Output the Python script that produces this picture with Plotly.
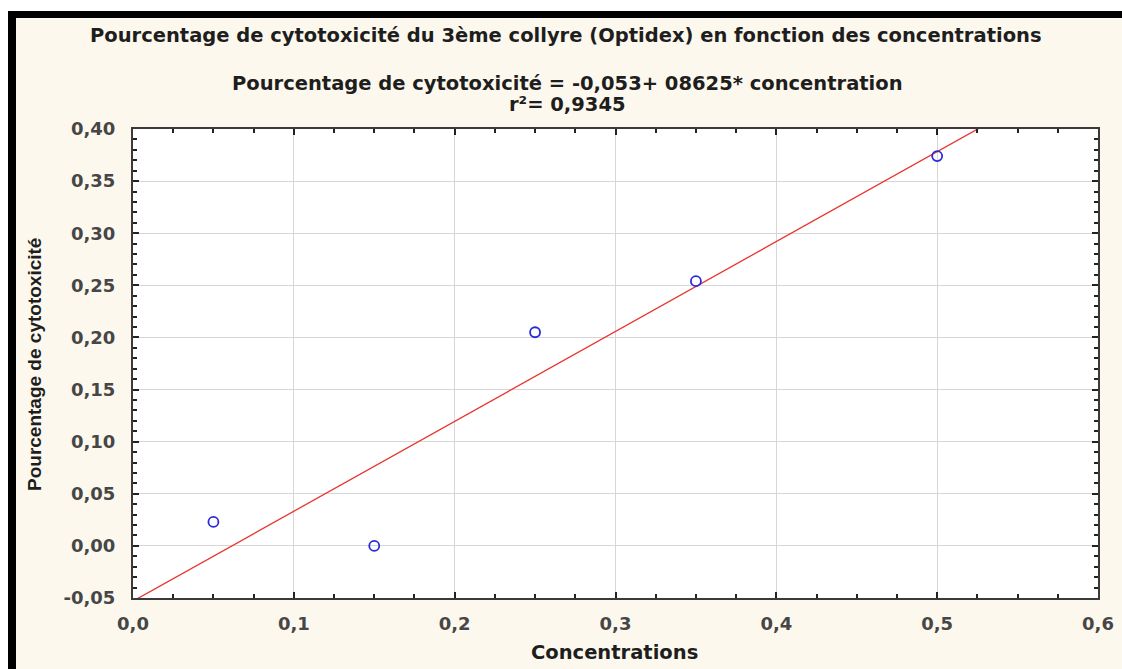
import plotly.graph_objects as go

# data
concentrations = [0.05, 0.15, 0.25, 0.35, 0.50]
cytotoxicite = [0.023, 0.0, 0.205, 0.254, 0.374]

# regression line endpoints (y = -0.053 + 0.8625 x)
fit_x = [0.0, 0.6]
fit_y = [-0.053, 0.4645]

# y tick labels (plain hyphen for the negative value, as in the original)
y_tickvals = [-0.05, 0.0, 0.05, 0.10, 0.15, 0.20, 0.25, 0.30, 0.35, 0.40]
y_ticktext = ["-0,05", "0,00", "0,05", "0,10", "0,15", "0,20", "0,25", "0,30", "0,35", "0,40"]

W, H = 1122, 669
L, R, T, B = 133, 24, 129, 71
PW, PH = W - L - R, H - T - B


def px(x):
    return (x - L) / PW


def py(y):
    return (H - B - y) / PH


BEIGE = "#fdf8ed"
TXT = "#1e1e1e"
TICK = "#464646"

fig = go.Figure()

fig.add_trace(go.Scatter(
    x=fit_x, y=fit_y, mode="lines",
    line=dict(color="#e8342f", width=1.3),
    showlegend=False, hoverinfo="skip",
))

fig.add_trace(go.Scatter(
    x=concentrations, y=cytotoxicite, mode="markers",
    marker=dict(symbol="circle-open", size=10, color="#2a2ad8", line=dict(width=1.8)),
    showlegend=False,
))

axis_common = dict(
    showline=True, linecolor="#3a3a3a", linewidth=2, mirror="ticks",
    ticks="inside", ticklen=6, tickwidth=1.5, tickcolor="#222",
    showgrid=True, gridcolor="#d6d6d6", gridwidth=1,
    zeroline=False,
    tickfont=dict(family="DejaVu Sans", size=18, color=TICK, weight="bold"),
)

fig.update_xaxes(
    range=[0, 0.6], dtick=0.1, tick0=0, tickformat=".1f",
    minor=dict(dtick=0.025, ticks="inside", ticklen=4, tickcolor="#222", showgrid=False),
    ticklabelstandoff=8,
    **axis_common,
)
fig.update_yaxes(
    range=[-0.05, 0.40], tickmode="array", tickvals=y_tickvals, ticktext=y_ticktext,
    minor=dict(dtick=0.01, tick0=0, ticks="inside", ticklen=4, tickcolor="#222", showgrid=False),
    ticklabelstandoff=12,
    **axis_common,
)

shapes = [
    # white strips outside the black frame
    dict(type="rect", xref="paper", yref="paper", x0=px(0), x1=px(W), y0=py(11), y1=py(0),
         fillcolor="white", line=dict(width=0), layer="below"),
    dict(type="rect", xref="paper", yref="paper", x0=px(0), x1=px(8), y0=py(H), y1=py(0),
         fillcolor="white", line=dict(width=0), layer="below"),
    # black frame (top and left)
    dict(type="rect", xref="paper", yref="paper", x0=px(8), x1=px(W), y0=py(18), y1=py(11),
         fillcolor="black", line=dict(width=0), layer="below"),
    dict(type="rect", xref="paper", yref="paper", x0=px(8), x1=px(16), y0=py(H), y1=py(11),
         fillcolor="black", line=dict(width=0), layer="below"),
]

bold = dict(family="DejaVu Sans", size=19.5, color=TXT)
annotations = [
    dict(text="<b>Pourcentage de cytotoxicité du 3ème collyre (Optidex) en fonction des concentrations</b>",
         x=px(566), y=py(35), font=bold),
    dict(text="<b>Pourcentage de cytotoxicité = -0,053+ 08625* concentration</b>",
         x=px(567), y=py(84), font=bold),
    dict(text="<b>r²= 0,9345</b>", x=px(567), y=py(104), font=bold),
    dict(text="<b>Concentrations</b>", x=px(614), y=py(652), font=bold),
    dict(text="<b>Pourcentage de cytotoxicité</b>", x=px(34), y=py(365), textangle=-90,
         font=dict(family="Liberation Sans", size=19, color=TXT)),
]
for a in annotations:
    a.update(xref="paper", yref="paper", showarrow=False, xanchor="center", yanchor="middle")

fig.update_layout(
    width=W, height=H,
    margin=dict(l=L, r=R, t=T, b=B, autoexpand=False),
    paper_bgcolor=BEIGE, plot_bgcolor="white",
    separators=", ",
    shapes=shapes, annotations=annotations,
    showlegend=False,
)

fig.write_html("out.html", config={"displayModeBar": False},
               post_script="document.body.style.margin='0';")
